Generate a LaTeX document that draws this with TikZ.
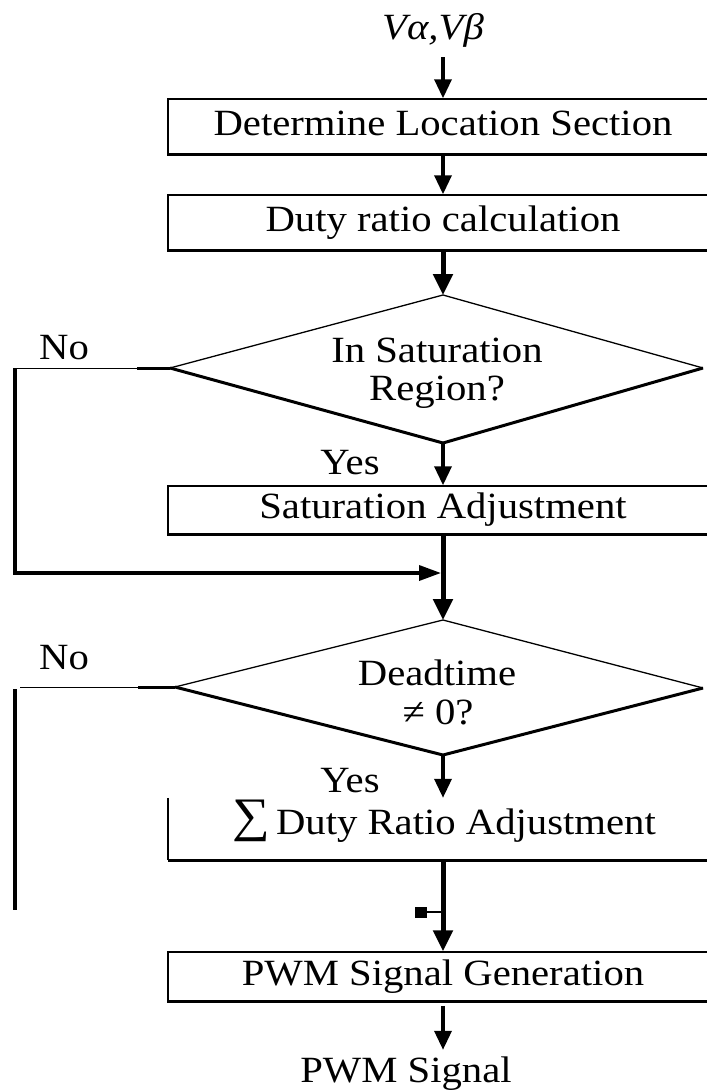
\documentclass[tikz,border=0pt]{standalone}
\usepackage{fontspec}
\setmainfont{Liberation Serif}[FakeStretch=1.1]
\usetikzlibrary{arrows.meta}
\tikzset{
  txt/.style={inner sep=0pt, text height=24pt, text depth=0pt},
  box/.style={draw, line width=1.5pt, minimum width=550pt, inner sep=0pt, text height=24pt, text depth=7pt},
  boxnd/.style={minimum width=550pt, inner sep=0pt},
  arr/.style={line width=3.5pt, -{Triangle[length=19pt,width=17pt]}},
  arrthick/.style={line width=5pt, -{Triangle[length=21pt,width=19pt]}},
  edgethin/.style={line width=1.3pt},
  edgethick/.style={line width=3pt},
  noline/.style={line width=3.5pt},
}
\begin{document}
\begin{tikzpicture}[x=1pt,y=-1pt,font=\fontsize{37}{44}\selectfont]
\useasboundingbox (0,0) rectangle (707,1090);
\clip (0,0) rectangle (707,1090);

% input
\node[txt] (in) at (433,27) {\itshape Vα,Vβ};

% boxes
\node[box, minimum height=55pt] (b1) at (443,126.5) {Determine Location Section};
\draw[line width=2.5pt] (b1.south west) -- (b1.south east);
\node[box, minimum height=55pt] (b2) at (443,222.5) {Duty ratio calculation};
\draw[line width=2.5pt] (b2.south west) -- (b2.south east);

% diamond 1
\coordinate (d1t) at (443,295);
\coordinate (d1l) at (170,368);
\coordinate (d1b) at (443,443);
\coordinate (d1r) at (703,368);
\draw[edgethin] (d1l) -- (d1t) -- (d1r);
\draw[edgethick] (d1l) -- (d1b) -- (d1r);
\node[txt] (d1a) at (437,350) {In Saturation};
\node[txt] (d1c) at (437,388) {Region?};
\node[txt] (no1) at (64,347) {No};
\node[txt] (yes1) at (350,462) {Yes};

\node[box, minimum height=48pt] (b3) at (443,510) {Saturation Adjustment};
\draw[line width=2.5pt] (b3.south west) -- (b3.south east);

% diamond 2
\coordinate (d2t) at (443,620);
\coordinate (d2l) at (175,687);
\coordinate (d2b) at (443,755);
\coordinate (d2r) at (703,688);
\draw[edgethin] (d2l) -- (d2t) -- (d2r);
\draw[edgethick] (d2l) -- (d2b) -- (d2r);
\node[txt] (d2a) at (437,673) {Deadtime};
\node[txt] (d2c) at (438,712) {≠ 0?};
\node[txt] (no2) at (64,657) {No};
\node[txt] (yes2) at (350,780) {Yes};

% box 4 (open top)
\node[boxnd, minimum height=62pt] (b4) at (443,829) {};
\node[txt] (b4t) at (444,822) {\raisebox{3pt}{\scalebox{1.3}{∑}}\,Duty Ratio Adjustment};
\draw[line width=1.5pt] (b4.north west) -- (b4.south west);
\draw[line width=3pt] (b4.south west) -- (b4.south east);

% box 5
\node[box, minimum height=49pt] (b5) at (443,976.5) {PWM Signal Generation};
\draw[line width=2.5pt] (b5.south west) -- (b5.south east);
\node[txt] (out) at (406,1070) {PWM Signal};

% main connectors
\draw[arr] ([yshift=-18pt]in.south -| b1.north) -- (b1.north);
\draw[arr] (b1.south) -- (b2.north);
\draw[arrthick] (b2.south) -- (d1t);
\draw[arr] (d1b) -- (b3.north);
\draw[arrthick] (b3.south) -- (d2t);
\draw[arr] (d2b) -- (b4.north);
\draw[arrthick] (b4.south) -- (b5.north);
\draw[arr] ([yshift=-4pt]b5.south) -- ([yshift=8pt]b5.south |- out.north);

% No branch 1
\coordinate (k1) at (137,368);
\coordinate (l1) at (15,368);
\coordinate (l1b) at (15,573);
\coordinate (m1) at (441,573);
\draw[line width=1pt] (l1) -- (k1);
\draw[edgethick] (k1) -- (d1l);
\draw[noline, -{Triangle[length=22pt,width=15pt]}] (l1) -- (l1b) -- (m1);

% No branch 2
\coordinate (k2) at (138,687);
\coordinate (l2) at (20,687);
\coordinate (v2t) at (15,689);
\coordinate (v2b) at (15,910);
\coordinate (s2) at (415,912);
\coordinate (m2) at (443,912);
\draw[line width=1pt] (l2) -- (k2);
\draw[edgethick] (k2) -- (d2l);
\draw[noline] (v2t) -- (v2b);
\draw[line width=2pt, {Square[length=12pt,width=11pt]}-] (s2) -- (m2);
\end{tikzpicture}
\end{document}
